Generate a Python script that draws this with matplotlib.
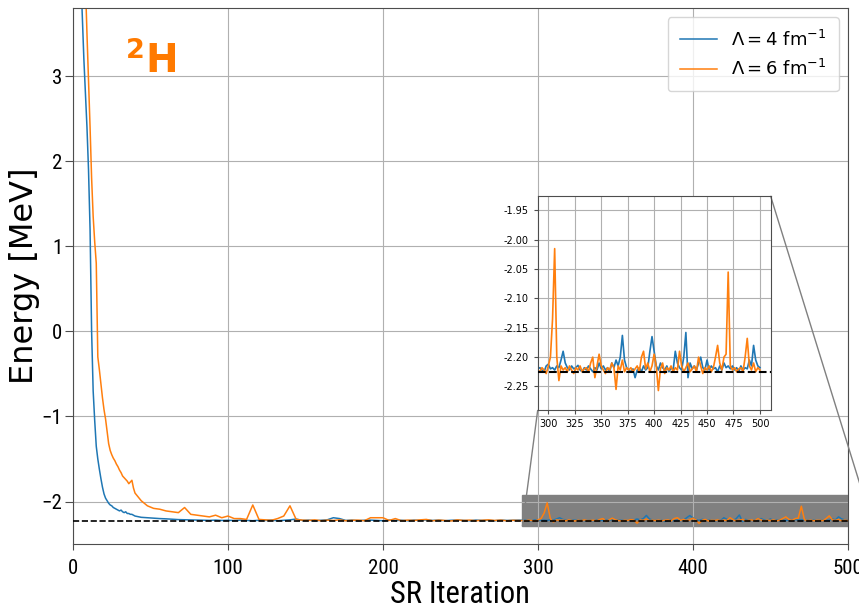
import numpy as np
import matplotlib
matplotlib.use("Agg")
import matplotlib.pyplot as plt
from mpl_toolkits.axes_grid1.inset_locator import mark_inset

plt.rcParams['mathtext.fontset'] = 'dejavusans'

# SR iterations: dense at the start, coarser in the middle, every 2 in the zoomed part
iters = np.concatenate([np.arange(0, 41), np.arange(44, 289, 4), np.arange(290, 501, 2)])

# Lambda = 4 fm^-1
e_l4 = [9.0, 7.5, 6.4, 5.5, 4.8, 4.2, 3.7, 3.2, 2.8, 2.4,
        1.9, 1.2, 0.0, -0.7, -1.05, -1.35, -1.5, -1.62, -1.73, -1.83,
        -1.91, -1.96, -1.99, -2.02, -2.04, -2.05, -2.07, -2.08, -2.09, -2.1,
        -2.11, -2.1, -2.12, -2.13, -2.12, -2.14, -2.14, -2.15, -2.15, -2.16,
        -2.17,
        # 44..288
        -2.185, -2.19, -2.195, -2.2, -2.203, -2.208, -2.212, -2.214, -2.217, -2.219,
        -2.22, -2.221, -2.218, -2.222, -2.22, -2.223, -2.218, -2.222, -2.225, -2.22,
        -2.222, -2.218, -2.225, -2.22, -2.215, -2.205, -2.222, -2.218, -2.225, -2.22,
        -2.215, -2.19, -2.2, -2.222, -2.218, -2.225, -2.22, -2.218, -2.222, -2.225,
        -2.218, -2.222, -2.22, -2.225, -2.218, -2.222, -2.215, -2.222, -2.218, -2.225,
        -2.22, -2.218, -2.222, -2.225, -2.218, -2.222, -2.22, -2.225, -2.218, -2.222,
        -2.22, -2.218,
        # 290..500
        -2.22, -2.218, -2.222, -2.225, -2.215, -2.212, -2.22, -2.218, -2.222, -2.215,
        -2.218, -2.205, -2.19, -2.21, -2.218, -2.222, -2.215, -2.22, -2.218, -2.214,
        -2.222, -2.225, -2.218, -2.222, -2.215, -2.22, -2.225, -2.218, -2.222, -2.21,
        -2.22, -2.215, -2.222, -2.218, -2.225, -2.21, -2.218, -2.205, -2.215, -2.2,
        -2.163, -2.205, -2.218, -2.222, -2.225, -2.22, -2.235, -2.222, -2.218, -2.225,
        -2.215, -2.222, -2.218, -2.19, -2.165, -2.19, -2.215, -2.222, -2.21, -2.218,
        -2.222, -2.215, -2.225, -2.218, -2.222, -2.19, -2.21, -2.218, -2.222, -2.2,
        -2.158, -2.235, -2.21, -2.22, -2.215, -2.222, -2.21, -2.2, -2.218, -2.222,
        -2.205, -2.222, -2.215, -2.22, -2.218, -2.225, -2.215, -2.222, -2.21, -2.218,
        -2.215, -2.22, -2.215, -2.222, -2.218, -2.225, -2.215, -2.222, -2.218, -2.22,
        -2.205, -2.215, -2.18, -2.205, -2.215, -2.218]

# Lambda = 6 fm^-1
e_l6 = [16.0, 12.5, 10.0, 8.2, 6.9, 5.9, 5.1, 4.55, 4.1, 3.5,
        2.95, 2.4, 1.8, 1.35, 1.05, 0.8, -0.3, -0.45, -0.62, -0.78,
        -0.92, -1.03, -1.18, -1.32, -1.4, -1.45, -1.49, -1.52, -1.56, -1.59,
        -1.63, -1.66, -1.7, -1.72, -1.74, -1.76, -1.79, -1.77, -1.75, -1.84,
        -1.9,
        # 44..288
        -1.99, -2.05, -2.08, -2.09, -2.11, -2.12, -2.13, -2.07, -2.15, -2.16,
        -2.17, -2.18, -2.16, -2.19, -2.17, -2.2, -2.2, -2.21, -2.04, -2.21,
        -2.215, -2.22, -2.2, -2.17, -2.05, -2.21, -2.218, -2.222, -2.215, -2.225,
        -2.218, -2.222, -2.215, -2.225, -2.22, -2.218, -2.225, -2.19, -2.19, -2.19,
        -2.222, -2.2, -2.225, -2.218, -2.222, -2.215, -2.21, -2.225, -2.218, -2.222,
        -2.228, -2.215, -2.222, -2.218, -2.225, -2.22, -2.215, -2.222, -2.218, -2.225,
        -2.22, -2.222,
        # 290..500
        -2.222, -2.225, -2.218, -2.222, -2.228, -2.215, -2.2, -2.135, -2.015, -2.2,
        -2.24, -2.215, -2.222, -2.218, -2.225, -2.215, -2.222, -2.228, -2.218, -2.222,
        -2.215, -2.225, -2.22, -2.218, -2.225, -2.21, -2.2, -2.235, -2.215, -2.195,
        -2.215, -2.222, -2.228, -2.218, -2.222, -2.21, -2.218, -2.255, -2.215, -2.222,
        -2.205, -2.225, -2.218, -2.222, -2.218, -2.225, -2.22, -2.215, -2.225, -2.2,
        -2.19, -2.22, -2.21, -2.225, -2.215, -2.195, -2.215, -2.257, -2.22, -2.21,
        -2.228, -2.218, -2.222, -2.215, -2.225, -2.218, -2.222, -2.19, -2.215, -2.225,
        -2.218, -2.21, -2.225, -2.22, -2.215, -2.225, -2.2, -2.215, -2.228, -2.218,
        -2.222, -2.215, -2.225, -2.218, -2.2, -2.18, -2.21, -2.222, -2.2, -2.195,
        -2.055, -2.215, -2.222, -2.218, -2.225, -2.22, -2.218, -2.225, -2.2, -2.168,
        -2.215, -2.222, -2.21, -2.225, -2.218, -2.222]

e_exact = -2.2246
labels = [r'$\Lambda = 4\ \mathrm{fm}^{-1}$', r'$\Lambda = 6\ \mathrm{fm}^{-1}$']

assert len(e_l4) == len(iters) and len(e_l6) == len(iters), (len(iters), len(e_l4), len(e_l6))

narrow = ['Roboto Condensed', 'DejaVu Sans']

fig = plt.figure(figsize=(8.59, 6.1), dpi=100)
ax = fig.add_axes([0.085, 0.108, 0.902, 0.879])

ax.plot(iters, e_l4, color='C0', lw=1.1, label=labels[0])
ax.plot(iters, e_l6, color='C1', lw=1.1, label=labels[1])
ax.axhline(e_exact, color='black', ls='--', lw=1.2, zorder=3)

ax.set_xlim(0, 500)
ax.set_ylim(-2.5, 3.8)
ax.grid(True, color='#b0b0b0', lw=0.8)
for s in ax.spines.values():
    s.set_color('0.3')
ax.tick_params(axis='x', labelsize=15, length=4.5, pad=6, color='0.3')
ax.tick_params(axis='y', labelsize=15, length=6, pad=1.5, color='0.3')
for lab in ax.get_xticklabels() + ax.get_yticklabels():
    lab.set_family(narrow)

ax.set_xlabel('SR Iteration', fontsize=22, family=narrow, labelpad=2)
ax.set_ylabel('Energy [MeV]', fontsize=23)
ax.yaxis.set_label_coords(-0.043, 0.5)
ax.legend(loc='upper right', fontsize=13, handlelength=2.0, borderpad=0.7)
ax.text(0.1, 0.9, r'$\mathbf{^{2}H}$', transform=ax.transAxes, fontsize=28,
        color='#ff7a00', ha='center', va='center')

# zoomed inset
axins = fig.add_axes([0.626, 0.328, 0.271, 0.351])
axins.plot(iters, e_l4, color='C0', lw=1.2)
axins.plot(iters, e_l6, color='C1', lw=1.2)
axins.axhline(e_exact, color='black', ls='--', lw=1.5, zorder=3)
axins.set_xlim(290, 510)
axins.set_ylim(-2.29, -1.925)
axins.set_xticks(np.arange(300, 501, 25))
axins.set_yticks([-2.25, -2.20, -2.15, -2.10, -2.05, -2.00, -1.95])
axins.yaxis.set_major_formatter(plt.FormatStrFormatter('%.2f'))
axins.tick_params(labelsize=7, length=3, color='0.3')
axins.grid(True, color='#b0b0b0', lw=0.8)
for s in axins.spines.values():
    s.set_color('0.3')

box, c1, c2 = mark_inset(ax, axins, loc1=1, loc2=3, fc='0.5', ec='0.5')
box.set_clip_on(True)
box.set_clip_path(ax.patch)

fig.savefig('out.png', dpi=100)
